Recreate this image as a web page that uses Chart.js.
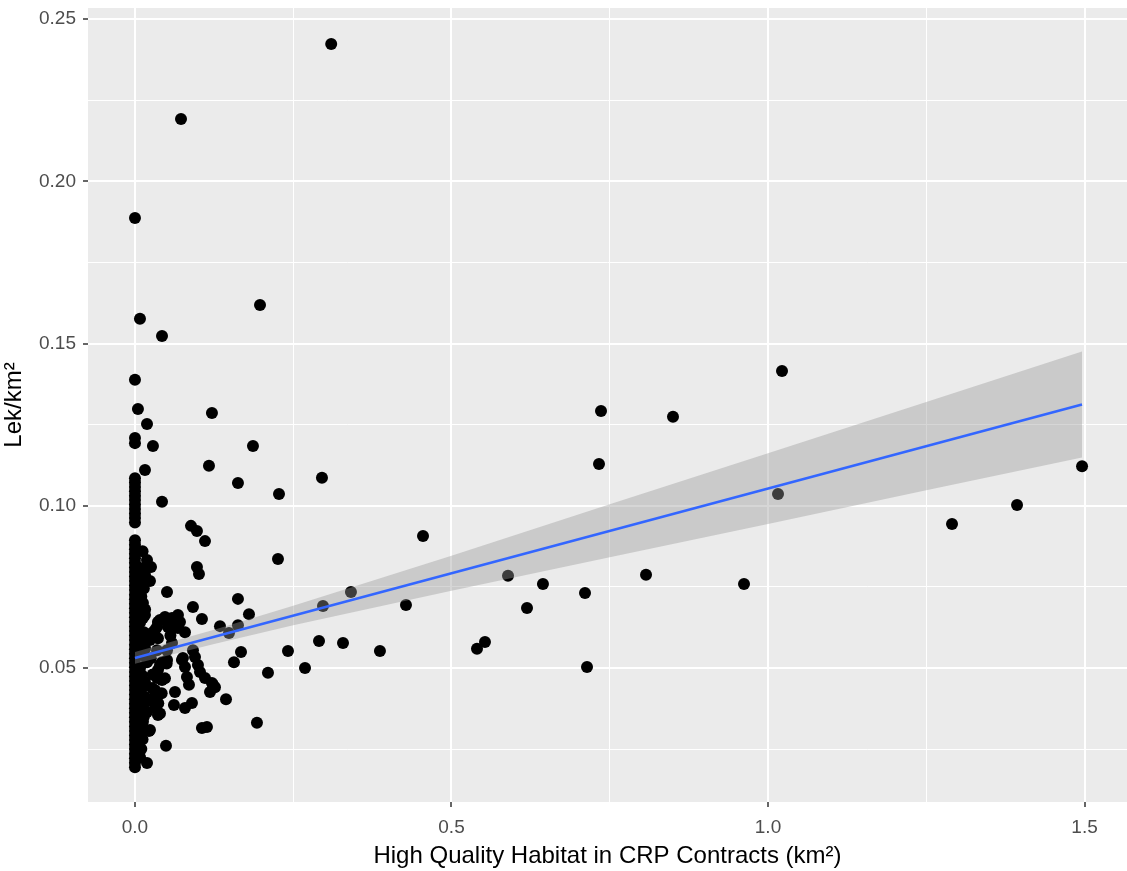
<!DOCTYPE html>
<html>
<head>
<meta charset="utf-8">
<script src="https://cdn.jsdelivr.net/npm/chart.js@4.4.0/dist/chart.umd.min.js"></script>
<style>
html, body { margin: 0; padding: 0; background: #fff; }
#wrap { width: 1127px; height: 871px; }
</style>
</head>
<body>
<div id="wrap"><canvas id="lekChart" width="1127" height="871"></canvas></div>
<script>
// --- data ---
// leks with no CRP habitat (stacked on x = 0)
const zeroColumnY = [0.1887, 0.1388, 0.1209, 0.1193,
  0.1085, 0.1072, 0.1058, 0.1045, 0.1031, 0.1018, 0.1004, 0.0990, 0.0976, 0.0962, 0.0948,
  0.0894, 0.0880, 0.0866, 0.0852, 0.0838, 0.0824, 0.0810, 0.0796, 0.0782, 0.0768, 0.0754,
  0.0740, 0.0726, 0.0712, 0.0698, 0.0684, 0.0670, 0.0656, 0.0642, 0.0628, 0.0614, 0.0600,
  0.0586, 0.0572, 0.0558, 0.0544, 0.0530, 0.0516, 0.0502, 0.0488, 0.0474, 0.0460, 0.0446,
  0.0432, 0.0418, 0.0404, 0.0390, 0.0376, 0.0362, 0.0348, 0.0334, 0.0320, 0.0306, 0.0292,
  0.0278, 0.0264, 0.0250, 0.0236, 0.0222, 0.0208, 0.0194];

// dense cluster close to zero
const clusterX = [0.0679, 0.0585, 0.0474, 0.0363, 0.0348, 0.0269, 0.0237, 0.0632, 0.0679, 0.0521,
  0.0079, 0.0126, 0.0158, 0.0111, 0.0126, 0.0158, 0.0363, 0.0585, 0.0126, 0.0395,
  0.0711, 0.0316, 0.0348, 0.0506, 0.0758, 0.0790, 0.0821, 0.0916, 0.0948, 0.0995,
  0.1027, 0.1106, 0.1216, 0.1264, 0.0742, 0.0853, 0.0632, 0.0616, 0.0790, 0.0900,
  0.0363, 0.0427, 0.0506, 0.0363, 0.0348, 0.0427, 0.0316, 0.0269, 0.0158, 0.0190,
  0.0316, 0.0126, 0.0237, 0.0111, 0.0190, 0.0111, 0.0158, 0.0079, 0.0190, 0.0253,
  0.012, 0.008, 0.014, 0.010, 0.016, 0.008, 0.014, 0.010, 0.016, 0.008,
  0.012, 0.016, 0.010, 0.014, 0.008, 0.012, 0.010, 0.008,
  0.0395, 0.0501, 0.0343, 0.0474, 0.0316, 0.0422, 0.0368, 0.0395, 0.0632, 0.0790,
  0.0560, 0.0250, 0.0280, 0.0220];
const clusterY = [0.0663, 0.0654, 0.0657, 0.0642, 0.0626, 0.0608, 0.0586, 0.0633, 0.0623, 0.0626,
  0.0808, 0.0796, 0.0787, 0.0694, 0.0654, 0.0663, 0.0592, 0.0577, 0.0700, 0.0648,
  0.0642, 0.0617, 0.0555, 0.0555, 0.0531, 0.0503, 0.0472, 0.0555, 0.0534, 0.0509,
  0.0488, 0.0469, 0.0454, 0.0441, 0.0525, 0.0448, 0.0426, 0.0386, 0.0377, 0.0392,
  0.0355, 0.0518, 0.0525, 0.0494, 0.0469, 0.0463, 0.0417, 0.0438, 0.0395, 0.0364,
  0.0377, 0.0334, 0.0309, 0.0540, 0.0518, 0.0478, 0.0457, 0.0426, 0.0833, 0.0811,
  0.0860, 0.0770, 0.0745, 0.0720, 0.0680, 0.0640, 0.0610, 0.0580, 0.0560, 0.0500,
  0.0440, 0.0410, 0.0370, 0.0350, 0.0310, 0.0280, 0.0250, 0.0225,
  0.0509, 0.0514, 0.0473, 0.0468, 0.0432, 0.0422, 0.0391, 0.0360, 0.0648, 0.0610,
  0.0600, 0.0530, 0.0480, 0.0400];

// the rest of the scatter
const spreadX = [0.310, 0.0727, 0.1975, 0.0079, 0.0427, 0.0047, 0.1216, 0.019, 0.0284, 0.1864,
  0.1169, 0.0158, 0.2954, 0.1627, 0.2275, 0.0427, 0.0885, 0.0979, 0.1106, 0.2259,
  0.0979, 0.1011, 0.0111, 0.0237, 0.0506, 0.1627, 0.3412, 0.0916, 0.1801, 0.1058,
  0.1343, 0.1627, 0.1485, 0.2970, 0.2907, 0.3286, 0.2417, 0.3870, 0.1675, 0.1564,
  0.2686, 0.2101, 0.1438, 0.1927, 0.1058, 0.1137, 0.0490, 0.0221, 0.0190, 0.1185,
  0.1232, 0.4550, 0.5893, 0.6445, 0.7109, 0.4281, 0.6193, 0.5529, 0.5403, 0.7141,
  0.7362, 0.7330, 0.8499, 1.0221, 1.0158, 1.4961, 1.3934, 1.2907, 0.8073, 0.9621];
const spreadY = [0.2423, 0.2192, 0.1619, 0.1576, 0.1523, 0.1298, 0.1286, 0.1252, 0.1184, 0.1184,
  0.1123, 0.1110, 0.1086, 0.1070, 0.1036, 0.1012, 0.0938, 0.0922, 0.0891, 0.0836,
  0.0811, 0.0790, 0.0805, 0.0768, 0.0734, 0.0713, 0.0734, 0.0688, 0.0666, 0.0651,
  0.0629, 0.0632, 0.0608, 0.0691, 0.0583, 0.0577, 0.0552, 0.0552, 0.0549, 0.0518,
  0.0500, 0.0485, 0.0404, 0.0331, 0.0315, 0.0318, 0.0260, 0.0306, 0.0207, 0.0426,
  0.0448, 0.0907, 0.0784, 0.0759, 0.0731, 0.0694, 0.0685, 0.0580, 0.0559, 0.0503,
  0.1292, 0.1129, 0.1274, 0.1415, 0.1036, 0.1122, 0.1002, 0.0944, 0.0787, 0.0759];

// fitted line and its confidence band
const fitX = [0, 1.496];
const fitY = [0.0531, 0.1312];
const bandX = [0, 0.125, 0.25, 0.375, 0.5, 0.75, 1.0, 1.25, 1.496];
const bandUpper = [0.0549, 0.0618, 0.0692, 0.0769, 0.0846, 0.1005, 0.1162, 0.1320, 0.1475];
const bandLower = [0.0513, 0.0574, 0.0632, 0.0685, 0.0738, 0.0841, 0.0944, 0.1048, 0.1149];

// axes
const xRange = [-0.0742, 1.5671];
const yRange = [0.0087, 0.2534];
const xMajorTicks = [0, 0.5, 1.0, 1.5];
const xMinorTicks = [0.25, 0.75, 1.25];
const yMajorTicks = [0.05, 0.10, 0.15, 0.20, 0.25];
const yMinorTicks = [0.025, 0.075, 0.125, 0.175, 0.225];

// --- helpers ---
function isMajor(v, majors) { return majors.some(m => Math.abs(m - v) < 1e-9); }
function pairs(xs, ys) { return xs.map((x, i) => ({ x: x, y: ys[i] })); }
function tickList(minor, major) { return minor.concat(major).sort((a, b) => a - b).map(v => ({ value: v })); }
// drop the label padding chart.js adds, so the panel fills the page like ggplot
function noPad(s) { s.paddingTop = 0; s.paddingBottom = 0; s.paddingLeft = 0; s.paddingRight = 0; }

const panelBg = {
    id: 'panelBg',
    beforeDraw(chart) {
        const { ctx, chartArea: a } = chart;
        ctx.save();
        ctx.fillStyle = '#EBEBEB';
        ctx.fillRect(a.left, a.top, a.right - a.left, a.bottom - a.top);
        ctx.restore();
    }
};

Chart.defaults.font.family = '"Liberation Sans", Arial, sans-serif';

const allPoints = zeroColumnY.map(y => ({ x: 0, y: y }))
    .concat(pairs(clusterX, clusterY))
    .concat(pairs(spreadX, spreadY));

new Chart(document.getElementById('lekChart'), {
    type: 'scatter',
    data: {
        datasets: [
            { label: 'fit', data: pairs(fitX, fitY), showLine: true, borderColor: '#3366FF', borderWidth: 2.5,
              pointRadius: 0, fill: false, tension: 0, order: 1 },
            { label: 'upper', data: pairs(bandX, bandUpper), showLine: true, borderColor: 'rgba(0,0,0,0)', borderWidth: 0,
              pointRadius: 0, fill: '+1', backgroundColor: 'rgba(153,153,153,0.4)', tension: 0, order: 2 },
            { label: 'lower', data: pairs(bandX, bandLower), showLine: true, borderColor: 'rgba(0,0,0,0)', borderWidth: 0,
              pointRadius: 0, fill: false, tension: 0, order: 2 },
            { label: 'leks', data: allPoints, pointRadius: 6, backgroundColor: '#000000', borderWidth: 0, order: 3 }
        ]
    },
    options: {
        responsive: false,
        animation: false,
        devicePixelRatio: 1,
        events: [],
        layout: { autoPadding: false, padding: { top: 8, left: 0, right: 0, bottom: 0 } },
        plugins: { legend: { display: false }, tooltip: { enabled: false } },
        scales: {
            x: {
                type: 'linear', min: xRange[0], max: xRange[1],
                afterBuildTicks: s => { s.ticks = tickList(xMinorTicks, xMajorTicks); },
                afterFit: s => { s.height = 69; noPad(s); },
                border: { display: false },
                grid: {
                    color: '#FFFFFF',
                    lineWidth: c => isMajor(c.tick.value, xMajorTicks) ? 2 : 1,
                    tickLength: 5, tickWidth: 1.5,
                    tickColor: c => isMajor(c.tick.value, xMajorTicks) ? '#333333' : 'rgba(0,0,0,0)'
                },
                ticks: {
                    autoSkip: false, maxRotation: 0, padding: 9, color: '#4D4D4D', font: { size: 19 },
                    callback: v => isMajor(v, xMajorTicks) ? v.toFixed(1) : ''
                },
                title: { display: true, text: 'High Quality Habitat in CRP Contracts (km²)', color: '#000000',
                         font: { size: 24 }, padding: 0 }
            },
            y: {
                type: 'linear', min: yRange[0], max: yRange[1],
                afterBuildTicks: s => { s.ticks = tickList(yMinorTicks, yMajorTicks); },
                afterFit: s => { s.width = 88; noPad(s); },
                border: { display: false },
                grid: {
                    color: '#FFFFFF',
                    lineWidth: c => isMajor(c.tick.value, yMajorTicks) ? 2 : 1,
                    tickLength: 5, tickWidth: 1.5,
                    tickColor: c => isMajor(c.tick.value, yMajorTicks) ? '#333333' : 'rgba(0,0,0,0)'
                },
                ticks: {
                    autoSkip: false, padding: 7, color: '#4D4D4D', font: { size: 19 },
                    callback: v => isMajor(v, yMajorTicks) ? v.toFixed(2) : ''
                },
                title: { display: true, text: 'Lek/km²', color: '#000000', font: { size: 24 }, padding: 0 }
            }
        }
    },
    plugins: [panelBg]
});
</script>
</body>
</html>
